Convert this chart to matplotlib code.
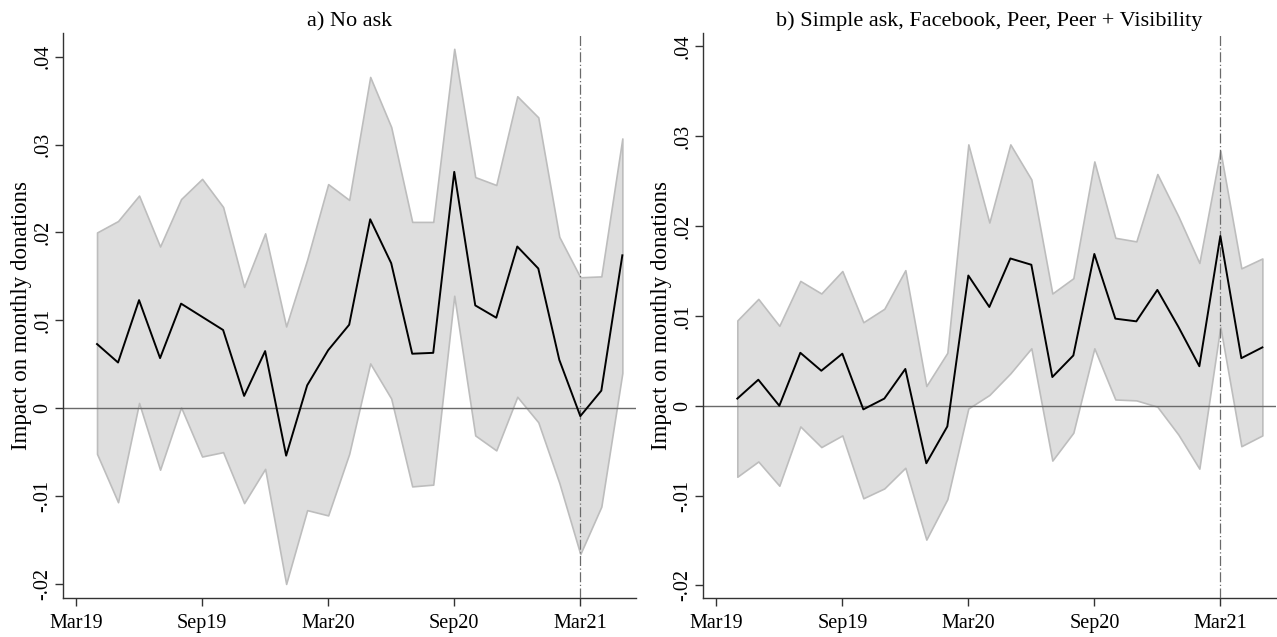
import numpy as np
import matplotlib
matplotlib.use("Agg")
import matplotlib.pyplot as plt

plt.rcParams['font.family'] = ['Liberation Serif', 'DejaVu Serif']

months = ['Apr19', 'May19', 'Jun19', 'Jul19', 'Aug19', 'Sep19', 'Oct19', 'Nov19', 'Dec19',
          'Jan20', 'Feb20', 'Mar20', 'Apr20', 'May20', 'Jun20', 'Jul20', 'Aug20', 'Sep20',
          'Oct20', 'Nov20', 'Dec20', 'Jan21', 'Feb21', 'Mar21', 'Apr21', 'May21']

# Panel a) No ask
a_est = [.0073, .0052, .0123, .0057, .0119, .0104, .0089, .0014, .0065, -.0054, .0026, .0066, .0095,
         .0215, .0165, .0062, .0063, .0269, .0117, .0103, .0184, .0159, .0055, -.0009, .0020, .0174]
a_hi = [.0200, .0213, .0242, .0184, .0238, .0261, .0229, .0138, .0199, .0093, .0169, .0255, .0237,
        .0377, .0320, .0212, .0212, .0409, .0263, .0254, .0355, .0331, .0195, .0149, .0150, .0307]
a_lo = [-.0052, -.0107, .0006, -.0070, .0001, -.0055, -.0050, -.0108, -.0069, -.0200, -.0116, -.0122, -.0052,
        .0051, .0011, -.0089, -.0087, .0128, -.0031, -.0048, .0013, -.0016, -.0085, -.0166, -.0112, .0040]

# Panel b) Simple ask, Facebook, Peer, Peer + Visibility
b_est = [.0008, .0029, .0000, .0059, .0039, .0058, -.0004, .0008, .0041, -.0064, -.0023, .0145, .0110,
         .0164, .0157, .0032, .0056, .0169, .0097, .0094, .0129, .0088, .0044, .0189, .0053, .0065]
b_hi = [.0095, .0119, .0089, .0139, .0125, .0150, .0093, .0108, .0151, .0022, .0059, .0291, .0204,
        .0291, .0252, .0125, .0142, .0272, .0187, .0183, .0258, .0211, .0159, .0284, .0153, .0164]
b_lo = [-.0079, -.0062, -.0089, -.0023, -.0046, -.0033, -.0103, -.0092, -.0069, -.0149, -.0104, -.0003, .0012,
        .0036, .0064, -.0061, -.0030, .0064, .0007, .0006, -.0001, -.0032, -.0070, .0088, -.0045, -.0033]

titles = ['a) No ask', 'b) Simple ask, Facebook, Peer, Peer + Visibility']
xtick_labels = ['Mar19', 'Sep19', 'Mar20', 'Sep20', 'Mar21']
ytick_vals = [-.02, -.01, 0, .01, .02, .03, .04]
ytick_labels = ['-.02', '-.01', '0', '.01', '.02', '.03', '.04']
event_month = 'Mar21'
ylabel = 'Impact on monthly donations'

mon_names = ['Jan', 'Feb', 'Mar', 'Apr', 'May', 'Jun', 'Jul', 'Aug', 'Sep', 'Oct', 'Nov', 'Dec']


def mi(label):
    # months elapsed since Mar19
    m = mon_names.index(label[:3])
    y = 2000 + int(label[3:])
    return (y * 12 + m) - (2019 * 12 + 2)


x = np.array([mi(m) for m in months])

W, H = 1277, 637
fig = plt.figure(figsize=(W / 100, H / 100), dpi=100)
boxes = [(63, 573, (-0.0216, 0.0427)), (703.3, 572.7, (-0.0214, 0.0415))]
panels = [(a_est, a_lo, a_hi), (b_est, b_lo, b_hi)]

for (left, width, ylim), (est, lo, hi), title in zip(boxes, panels, titles):
    ax = fig.add_axes([left / W, (H - 598) / H, width / W, 565 / H])
    ax.fill_between(x, lo, hi, facecolor='#dedede', edgecolor='#bdbdbd', linewidth=1.2, zorder=1)
    ax.axhline(0, color='#6a6a6a', linewidth=1.0, zorder=2)
    ax.axvline(mi(event_month), color='#6a6a6a', linewidth=0.9, linestyle=(0, (8, 2, 1, 2)), zorder=3)
    ax.plot(x, est, color='black', linewidth=1.4, zorder=4)
    ax.set_xlim(-0.62, 26.65)
    ax.set_ylim(*ylim)
    ax.set_xticks([mi(t) for t in xtick_labels])
    ax.set_xticklabels(xtick_labels, fontsize=14.5)
    ax.set_yticks(ytick_vals)
    ax.set_yticklabels(ytick_labels, fontsize=14.5, rotation=90, va='center')
    ax.set_ylabel(ylabel, fontsize=16.5, labelpad=1)
    ax.set_title(title, fontsize=16, pad=5)
    for s in ['top', 'right']:
        ax.spines[s].set_visible(False)
    for s in ['left', 'bottom']:
        ax.spines[s].set_color('#333333')
        ax.spines[s].set_linewidth(1.0)
    ax.tick_params(direction='out', length=5.8, width=1.0, color='#333333', pad=2)
    ax.tick_params(axis='x', pad=6)

fig.savefig('out.png', dpi=100)
